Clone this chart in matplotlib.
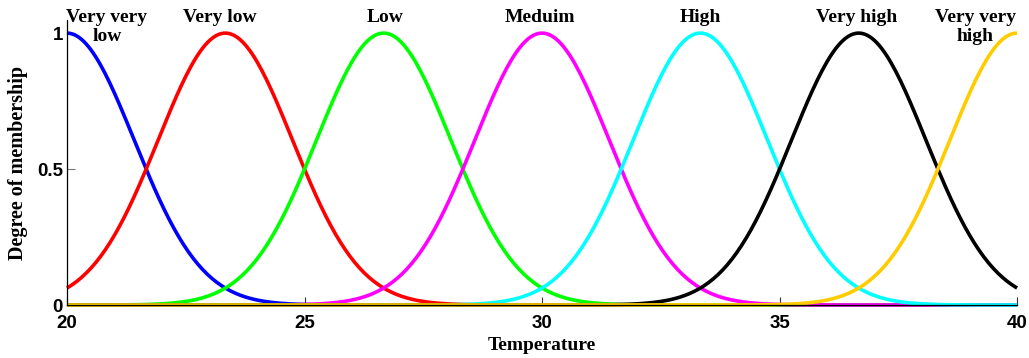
import numpy as np
import matplotlib.pyplot as plt

# gaussian membership functions
names = ['Very very\nlow', 'Very low', 'Low', 'Meduim', 'High', 'Very high', 'Very very\nhigh']
centers = [20.0, 23.333, 26.667, 30.0, 33.333, 36.667, 40.0]
sigmas = [1.415, 1.415, 1.415, 1.415, 1.415, 1.415, 1.415]
colors = ['#0000ff', '#ff0000', '#00ff00', '#ff00ff', '#00ffff', '#000000', '#ffcc00']
label_x = [20.84, 23.22, 26.69, 29.96, 33.33, 36.63, 39.12]

xticks = [20, 25, 30, 35, 40]
yticks = [0, 0.5, 1]

x = np.linspace(20, 40, 401)

fig = plt.figure(figsize=(10.29, 3.58), dpi=100)
ax = fig.add_axes([0.0651, 0.148, 0.9233, 0.796])

for c, s, col in zip(centers, sigmas, colors):
    y = np.exp(-(x - c) ** 2 / (2 * s ** 2))
    ax.plot(x, y, color=col, lw=2.6, clip_on=False, solid_capstyle='butt')

for name, lx in zip(names, label_x):
    ax.text(lx, 1.09, name, ha='center', va='top', fontsize=14,
            family='Liberation Serif', fontweight='bold', linespacing=1.15)

ax.set_xlim(20, 40)
ax.set_ylim(0, 1.048)
ax.set_xticks(xticks)
ax.set_yticks(yticks)
ax.set_yticklabels(['0', '0.5', '1'])
for lab in ax.get_xticklabels() + ax.get_yticklabels():
    lab.set_family('Liberation Sans')
    lab.set_fontweight('bold')
    lab.set_fontsize(13.5)
ax.tick_params(axis='x', direction='in', length=6, width=0.8, color='#333333', pad=7)
ax.tick_params(axis='y', direction='in', length=6, width=0.8, color='#777777', pad=3)

ax.spines['top'].set_visible(False)
ax.spines['right'].set_visible(False)
ax.spines['left'].set_linewidth(0.9)
ax.spines['bottom'].set_linewidth(0.9)

ax.set_xlabel('Temperature', family='Liberation Serif', fontweight='bold',
              fontsize=14, labelpad=4)
ax.set_ylabel('Degree of membership', family='Liberation Serif', fontweight='bold',
              fontsize=14.5, labelpad=6)

fig.savefig('out.png', dpi=100)
